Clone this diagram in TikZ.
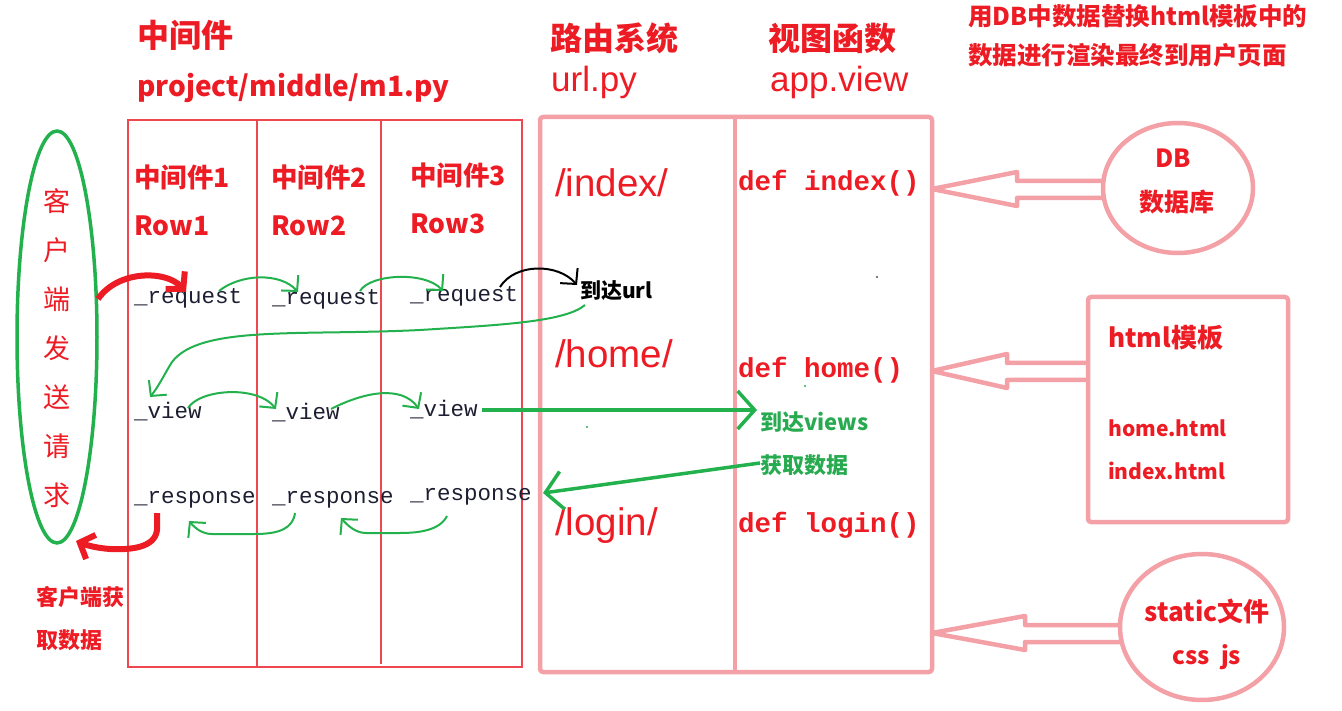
\documentclass[tikz,border=0pt]{standalone}
\usepackage{fontspec}
\setmainfont{Noto Sans CJK SC}
\newfontfamily\arialf{Liberation Sans}
\newfontfamily\courf{Liberation Mono}
\usetikzlibrary{arrows.meta}
\definecolor{rtxt}{RGB}{237,28,36}
\definecolor{grn}{RGB}{34,177,76}
\definecolor{gtxt}{RGB}{40,170,80}
\definecolor{thinred}{RGB}{240,70,80}
\definecolor{pinkl}{RGB}{243,160,166}
\definecolor{codeblk}{RGB}{30,30,50}
\newcommand\fs[1]{\fontsize{#1}{#1}\selectfont}
\newcommand\fatarrow[4]{%
  \draw[pinkbox] (#4,{#2-8}) -- (#3,{#2-8}) -- (#3,{#2-17}) -- (#1,#2) -- (#3,{#2+17}) -- (#3,{#2+9}) -- (#4,{#2+9});}
\begin{document}
\begin{tikzpicture}[x=1pt,y=-1pt,
  every node/.style={inner sep=0pt},
  ttl/.style={anchor=west,text=rtxt,font=\fs{32}\bfseries},
  sub/.style={anchor=west,text=rtxt,font=\arialf\fs{35}},
  mwl/.style={anchor=west,text=rtxt,font=\fs{26.5}\bfseries},
  code/.style={anchor=base west,text=codeblk,font=\courf\fs{22.5}},
  route/.style={anchor=west,text=rtxt,font=\arialf\fs{38.5}},
  deff/.style={anchor=west,text=rtxt,font=\courf\bfseries\fs{27.5}},
  side/.style={text=rtxt,font=\fs{25}\bfseries},
  vert/.style={text=rtxt,font=\fs{27}},
  pinkbox/.style={draw=pinkl,line width=4.5pt,line join=round},
  thinbox/.style={draw=thinred,line width=1.3pt},
  garr/.style={draw=grn,line width=2pt,-{Straight Barb[length=11pt,width=23pt]}},
  barr/.style={draw=black,line width=2pt,-{Straight Barb[length=11pt,width=23pt]}},
  rarr/.style={draw=rtxt,line width=6pt,-{Straight Barb[length=12pt,width=26pt]}},
  gbig/.style={draw=grn,line width=3.5pt,-{Straight Barb[length=17pt,width=38pt]}}
]
\useasboundingbox (0,0) rectangle (1342,711);

% titles
\node[ttl] (t1) at (137,35) {中间件};
\node[ttl,font=\fs{28}\bfseries] (t1b) at (137,88) {project/middle/m1.py};
\node[ttl] (t2) at (550,38) {路由系统};
\node[sub] (t2b) at (551,82) {url.py};
\node[ttl] (t3) at (768,38) {视图函数};
\node[sub] (t3b) at (770,82) {app.view};
\node[anchor=west,text=rtxt,font=\fs{24.5}\bfseries] (n1) at (968,16) {用DB中数据替换html模板中的};
\node[anchor=west,text=rtxt,font=\fs{24.5}\bfseries] (n2) at (968,55) {数据进行渲染最终到用户页面};

% middleware box
\draw[thinbox] (128,120) rectangle (522,667);
\draw[thinbox] (257,120) -- (257,667);
\draw[thinbox] (381,120) -- (381,664);

\node[mwl] (m1) at (134,177) {中间件1};
\node[mwl] (r1) at (134,226) {Row1};
\node[mwl] (m2) at (271,177) {中间件2};
\node[mwl] (r2) at (271,226) {Row2};
\node[mwl] (m3) at (410,175) {中间件3};
\node[mwl] (r3) at (410,224) {Row3};

\node[code] (q1) at (134,304) {\_request};
\node[code] (q2) at (272,305) {\_request};
\node[code] (q3) at (410,302) {\_request};
\node[code] (v1) at (134,418) {\_view};
\node[code] (v2) at (272,420) {\_view};
\node[code] (v3) at (410,417) {\_view};
\node[code] (p1) at (134,503) {\_response};
\node[code] (p2) at (272,503) {\_response};
\node[code] (p3) at (410,500) {\_response};

% client ellipse
\draw[grn,line width=3.5pt] (57,337) ellipse [x radius=40, y radius=206];
\foreach \c [count=\i from 0] in {客,户,端,发,送,请,求}
  \node[vert] (c\i) at (57,{201+49*\i}) {\c};
\node[anchor=west,text=rtxt,font=\fs{22}\bfseries] (g1) at (36,597) {客户端获};
\node[anchor=west,text=rtxt,font=\fs{22}\bfseries] (g2) at (36,640) {取数据};

% url / view boxes
\draw[pinkbox,rounded corners=3pt] (540,117) rectangle (932,672);
\draw[pinkbox] (735,117) -- (735,672);
\node[route] (u1) at (555,183) {/index/};
\node[route] (u2) at (555,354) {/home/};
\node[route] (u3) at (555,526) {/login/};
\node[deff] (d1) at (738,183) {def index()};
\node[deff] (d2) at (738,370) {def home()};
\node[deff] (d3) at (738,525) {def login()};

\node[anchor=west,text=black,font=\fs{21}\bfseries] (au) at (580,291) {到达url};
\node[anchor=west,text=gtxt,font=\fs{22}\bfseries] (av) at (760,422) {到达views};
\node[anchor=west,text=gtxt,font=\fs{22}\bfseries] (hq) at (760,465) {获取数据};

% right side resources
\draw[pinkbox] (1178,188) ellipse [x radius=75, y radius=65];
\node[side] (db1) at (1173,158) {DB};
\node[side] (db2) at (1177,202) {数据库};
\draw[pinkbox,rounded corners=3pt] (1088,297) rectangle (1288,522);
\node[side,anchor=west,font=\fs{26}\bfseries] (h1) at (1108,338) {html模板};
\node[side,anchor=west,font=\fs{21}\bfseries] (h2) at (1108,428) {home.html};
\node[side,anchor=west,font=\fs{21}\bfseries] (h3) at (1108,471) {index.html};
\draw[pinkbox] (1202,627) ellipse [x radius=82, y radius=73];
\node[side,font=\fs{26}\bfseries] (s1) at (1207,611) {static文件};
\node[side,font=\fs{24}\bfseries] (s2) at (1207,657) {css\ \ js};

\fatarrow{932}{189}{1017}{1103}
\fatarrow{932}{371}{1007}{1088}
\fatarrow{932}{633}{1025}{1121}

% flow arrows
\coordinate (rs) at (98,299);
\coordinate (rt) at (186,292);
\draw[rarr] (rs) .. controls (118,270) and (166,270) .. (rt);
\coordinate (g1s) at (219,291);
\coordinate (g1t) at (298,292);
\draw[garr] (g1s) .. controls (240,274) and (280,272) .. (g1t);
\coordinate (g2s) at (360,291);
\coordinate (g2t) at (443,291);
\draw[garr] (g2s) .. controls (370,274) and (425,271) .. (g2t);
\coordinate (bs) at (500,287);
\coordinate (bt) at (577,285);
\draw[barr] (bs) .. controls (515,263) and (558,263) .. (bt);

\coordinate (ls) at (585,305);
\coordinate (lt) at (150,397);
\draw[garr] (ls) .. controls (565,322) and (500,325) .. (420,330)
  .. controls (300,336) and (200,325) .. (172,362)
  .. controls (165,373) and (159,386) .. (lt);

\coordinate (w1s) at (188,408);
\coordinate (w1t) at (276,409);
\draw[garr] (w1s) .. controls (200,389) and (257,385) .. (w1t);
\coordinate (w2s) at (331,409);
\coordinate (w2t) at (419,409);
\draw[garr] (w2s) .. controls (362,393) and (401,384) .. (w2t);

\coordinate (vs) at (482,410);
\coordinate (vt) at (757,410);
\draw[gbig] (vs) -- (vt);
\coordinate (hs) at (760,463);
\coordinate (ht) at (543,493);
\draw[gbig] (hs) -- (ht);

\coordinate (x1s) at (295,513);
\coordinate (x1t) at (189,521);
\draw[garr] (x1s) .. controls (293,528) and (280,534) .. (255,534) -- (212,534)
  .. controls (202,534) and (195,528) .. (x1t);
\coordinate (x2s) at (447,516);
\coordinate (x2t) at (341,518);
\draw[garr] (x2s) .. controls (440,530) and (420,533) .. (400,533) -- (366,533)
  .. controls (356,533) and (348,526) .. (x2t);

\coordinate (ys) at (157,513);
\coordinate (yt) at (76,541);
\draw[rarr] (ys) -- (157,530) .. controls (155,548) and (130,550) .. (110,549)
  .. controls (96,548) and (86,545) .. (yt);

% stray dots
\fill[black!70] (877,277) circle (1.2);
\fill[grn] (805,386) circle (1.2);
\fill[grn] (587,427) circle (1.2);
\end{tikzpicture}
\end{document}
